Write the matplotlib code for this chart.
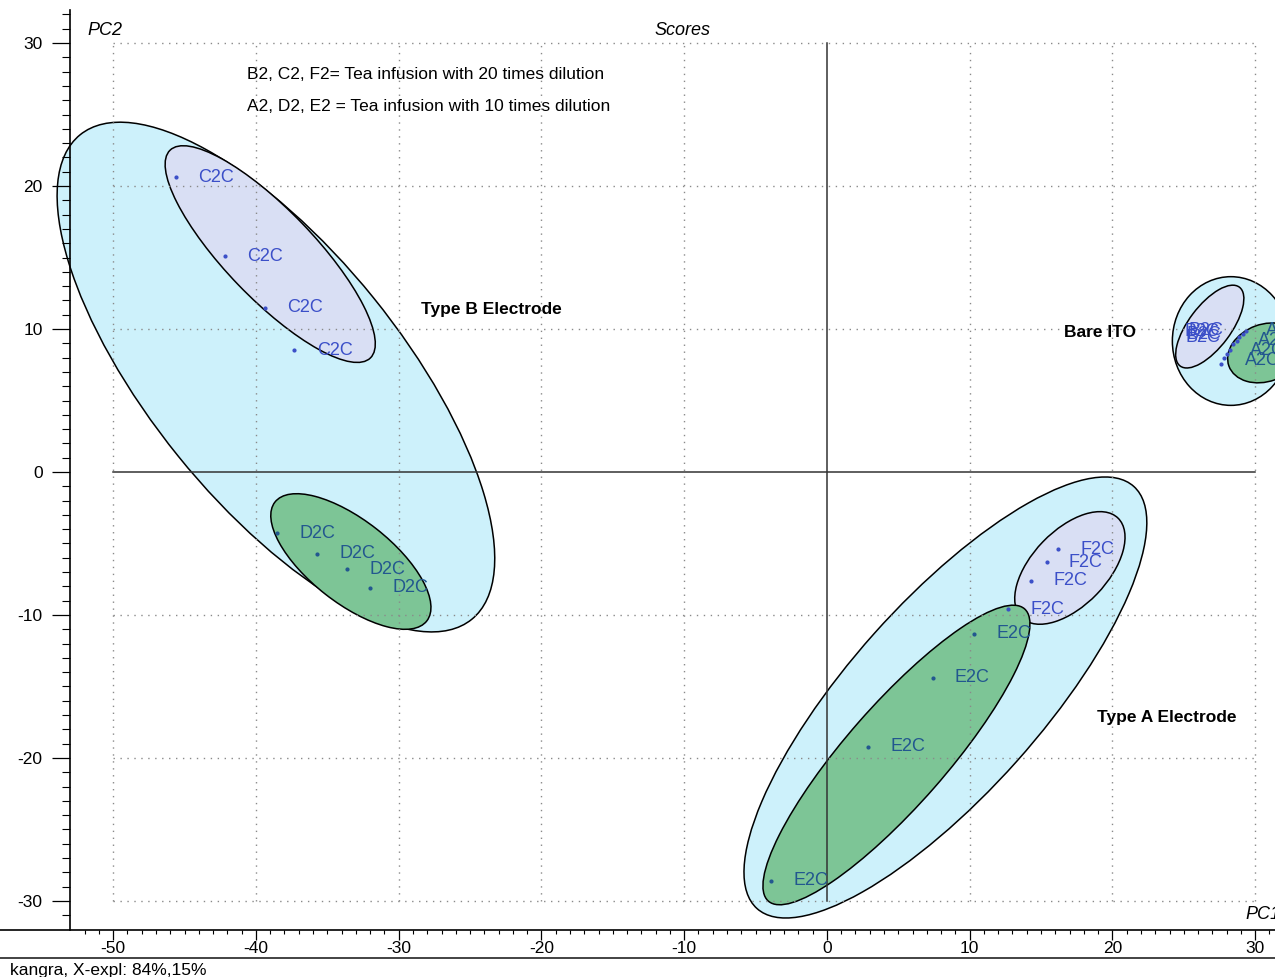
import numpy as np
import matplotlib.pyplot as plt
from matplotlib.patches import Ellipse
from matplotlib.lines import Line2D
from matplotlib.ticker import FixedLocator

plt.rcParams['font.family'] = ['Liberation Sans', 'DejaVu Sans']
plt.rcParams['axes.unicode_minus'] = False

# PCA scores (PC1, PC2) per sample group
c2c_x = [-45.6, -42.2, -39.4, -37.3]
c2c_y = [20.6, 15.1, 11.5, 8.5]
d2c_x = [-38.5, -35.7, -33.6, -32.0]
d2c_y = [-4.3, -5.7, -6.8, -8.1]
e2c_x = [10.3, 7.4, 2.9, -3.9]
e2c_y = [-11.3, -14.4, -19.2, -28.6]
f2c_x = [16.2, 15.4, 14.3, 12.7]
f2c_y = [-5.4, -6.3, -7.6, -9.6]

# bare ITO samples sit almost on top of each other
bare_x = [29.35, 29.12, 28.88, 28.70, 28.46, 28.23, 28.04, 27.81, 27.58]
bare_y = [9.86, 9.65, 9.46, 9.18, 8.95, 8.53, 8.23, 7.95, 7.53]
b2c_lx = [25.08, 25.22, 25.15, 25.36]
b2c_ly = [9.86, 9.65, 9.44, 9.93]
a2c_lx = [29.28, 29.63, 30.19, 30.75]
a2c_ly = [7.83, 8.53, 9.23, 9.93]

# group ellipses: centre, full axis lengths, rotation in degrees
ell_x = [-38.6, -39.0, -33.35, 8.30, 17.02, 4.87, 28.3, 26.82, 30.7]
ell_y = [6.64, 15.24, -6.26, -15.77, -6.71, -19.79, 9.16, 10.17, 8.33]
ell_w = [43.6, 20.2, 13.5, 39.6, 9.7, 27.2, 8.2, 6.9, 5.4]
ell_h = [17.6, 6.2, 5.8, 13.4, 5.26, 7.0, 9.0, 2.96, 4.0]
ell_ang = [129, 134, 142, 48.2, 46, 48.7, 0, 53, 20]
ell_grp = ['all', 'x20', 'x10', 'all', 'x20', 'x10', 'all', 'x20', 'x10']

fills = {'all': '#cdf1fb', 'x20': '#d9dff4', 'x10': '#7dc596'}
blue = '#3b4fc8'
teal = '#22578f'

fig = plt.figure(figsize=(12.75, 9.77), dpi=100)
ax = fig.add_axes([0, 47 / 977, 1, 920 / 977])
ax.set_xlim(-57.93, 31.39)
ax.set_ylim(-32.03, 32.31)

for x, y, w, h, a, g in zip(ell_x, ell_y, ell_w, ell_h, ell_ang, ell_grp):
    ax.add_patch(Ellipse((x, y), w, h, angle=a, facecolor=fills[g],
                         edgecolor='black', lw=1.1, zorder=1))

# dotted grid inside the score box
for gx in range(-50, 31, 10):
    if gx != 0:
        ax.plot([gx, gx], [-30, 30], color='#8a8a8a', lw=1.0,
                ls=(0, (1, 4)), zorder=2)
for gy in range(-30, 31, 10):
    if gy != 0:
        ax.plot([-50, 30], [gy, gy], color='#8a8a8a', lw=1.0,
                ls=(0, (1, 4)), zorder=2)
ax.plot([0, 0], [-30, 30], color='#333333', lw=1.1, zorder=2)
ax.plot([-50, 30], [0, 0], color='#333333', lw=1.1, zorder=2)

def scores(xs, ys, name, col):
    ax.plot(xs, ys, 'o', ms=2, color=col, zorder=3)
    for x, y in zip(xs, ys):
        ax.annotate(name, (x, y), xytext=(16, 0), textcoords='offset points',
                    va='center', ha='left', fontsize=13, color=col, zorder=4)

scores(c2c_x, c2c_y, 'C2C', blue)
scores(d2c_x, d2c_y, 'D2C', teal)
scores(e2c_x, e2c_y, 'E2C', teal)
scores(f2c_x, f2c_y, 'F2C', blue)

ax.plot(bare_x, bare_y, 'o', ms=2, color=blue, zorder=3)
for x, y in zip(b2c_lx, b2c_ly):
    ax.text(x, y, 'B2C', fontsize=13, color=blue, va='center', zorder=4)
for x, y in zip(a2c_lx, a2c_ly):
    ax.text(x, y, 'A2C', fontsize=13, color=teal, va='center', zorder=4)

ax.text(-28.44, 11.33, 'Type B Electrode', fontsize=12.5, fontweight='bold',
        va='center')
ax.text(18.91, -17.2, 'Type A Electrode', fontsize=12.5, fontweight='bold',
        va='center')
ax.text(16.6, 9.79, 'Bare ITO', fontsize=12.5, fontweight='bold', va='center')
ax.text(-40.63, 27.83, 'B2, C2, F2= Tea infusion with 20 times dilution',
        fontsize=12.5, va='center')
ax.text(-40.63, 25.59, 'A2, D2, E2 = Tea infusion with 10 times dilution',
        fontsize=12.5, va='center')
ax.text(-10.09, 30.9, 'Scores', fontsize=13, style='italic', ha='center',
        va='center')
ax.text(-51.77, 30.9, 'PC2', fontsize=13, style='italic', va='center')
ax.text(29.35, -30.98, 'PC1', fontsize=13, style='italic', va='center')

# axes frame: left spine pulled in to x = -53
for s in ['top', 'right']:
    ax.spines[s].set_visible(False)
ax.spines['left'].set_position(('data', -53))
ax.spines['left'].set_linewidth(1.2)
ax.spines['bottom'].set_linewidth(1.2)

ax.xaxis.set_major_locator(FixedLocator(np.arange(-50, 31, 10)))
ax.xaxis.set_minor_locator(FixedLocator(np.arange(-52, 32, 1)))
ax.yaxis.set_major_locator(FixedLocator(np.arange(-30, 31, 10)))
ax.yaxis.set_minor_locator(FixedLocator(np.arange(-31, 33, 1)))
ax.tick_params(axis='x', which='major', direction='out', length=7, width=0.9,
               pad=1, labelsize=12.5)
ax.tick_params(axis='x', which='minor', direction='out', length=3, width=0.8)
ax.tick_params(axis='y', which='major', direction='out', length=13, width=0.9,
               pad=7, labelsize=12.5)
ax.tick_params(axis='y', which='minor', direction='out', length=6, width=0.8)

fig.add_artist(Line2D([0, 1], [19 / 977, 19 / 977], color='#222222', lw=1.2))
fig.text(0.008, 0.007, 'kangra, X-expl: 84%,15%', fontsize=12.5, va='center')

fig.savefig('out.png', dpi=100)
